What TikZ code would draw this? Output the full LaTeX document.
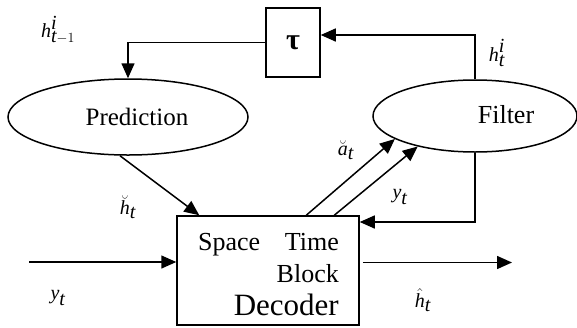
\RequirePackage{fix-cm}
\documentclass[tikz,border=0pt]{standalone}
\usepackage{fontspec}
\setmainfont{Liberation Serif}
\usetikzlibrary{shapes.geometric,arrows.meta}
\newcommand{\vi}[1]{\textit{#1}}
\tikzset{
  line/.style={line width=1.5pt},
  arr/.style={line, -{Triangle[length=15pt,width=13pt]}},
  blk/.style={draw, line width=1.5pt, rectangle, inner sep=0pt},
  oval/.style={draw, line width=1.5pt, ellipse, inner sep=0pt},
  lbl/.style={font=\fontsize{20}{20}\selectfont, inner sep=0pt},
}
\begin{document}
\begin{tikzpicture}[x=1pt,y=-1pt]
\useasboundingbox (0,0) rectangle (577,327);

% blocks
\node[blk, minimum width=54pt, minimum height=69pt] (tau) at (293,42.5)
  {\fontsize{30}{30}\selectfont\bfseries τ};
\node[oval, minimum width=240pt, minimum height=76pt] (pred) at (128,117) {};
\node[font=\fontsize{25}{25}\selectfont] (predtxt) at (137,117) {Prediction};
\node[oval, minimum width=204pt, minimum height=72pt] (filt) at (475,116) {};
\node[font=\fontsize{26}{26}\selectfont] (filttxt) at (506,115) {Filter};
\node[blk, minimum width=182pt, minimum height=109pt] (dec) at (268,270.5) {};

% decoder text
\node[font=\fontsize{26}{26}\selectfont, anchor=base west, inner sep=0pt] (sp) at (198,250) {Space};
\node[font=\fontsize{26}{26}\selectfont, anchor=base east, inner sep=0pt] (tm) at (339,250) {Time};
\node[font=\fontsize{26}{26}\selectfont, anchor=base east, inner sep=0pt] (bl) at (339,282) {Block};
\node[font=\fontsize{31}{31}\selectfont, anchor=base east, inner sep=0pt] (dc) at (339,315) {Decoder};

% free ends
\coordinate (in) at (29,262);
\coordinate (out) at (512,262.5);

% connectors
\draw[arr] (filt.north) |- ([yshift=7.5pt]tau.east);
\draw[arr] (tau.west) -| (pred.north);
\draw[arr] ([xshift=-8pt]pred.south) -- ([xshift=23pt]dec.north west);
\draw[arr] ([xshift=130pt]dec.north west) -- (filt.196);
\draw[arr] ([xshift=158pt]dec.north west) -- (filt.208);
\draw[arr] (filt.south) |- ([yshift=48.5pt]dec.east);
\draw[arr] (in) -- ([yshift=8.5pt]dec.west);
\draw[arr, shorten <=3pt] ([yshift=8pt]dec.east) -- (out);

% labels
\node[lbl] (l1) at (58,30) {$\vi{h}^{\vi{i}}_{\vi{t}-1}$};
\node[lbl] (l2) at (497,53) {$\vi{h}^{\vi{i}}_{\vi{t}}$};
\node[lbl] (l3) at (128,207) {$\breve{\vi{h}}_{\vi{t}}$};
\node[lbl] (l4) at (346,150) {$\breve{\vi{a}}_{\vi{t}}$};
\node[lbl] (l5) at (400,197) {$\vi{y}_{\vi{t}}$};
\node[lbl] (l6) at (58,298) {$\vi{y}_{\vi{t}}$};
\node[lbl] (l7) at (423,300) {$\hat{\vi{h}}_{\vi{t}}$};
\end{tikzpicture}
\end{document}
